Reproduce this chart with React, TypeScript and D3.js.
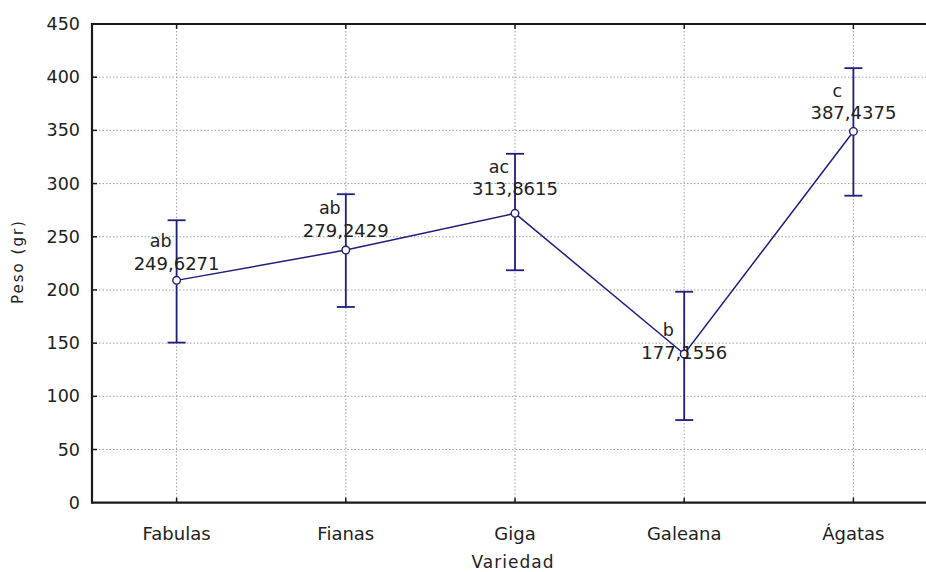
import React from "react";
import * as d3 from "d3";

const categories = ["Fabulas", "Fianas", "Giga", "Galeana", "Ágatas"];
const means = [209, 237.5, 272, 139.8, 349];
const upper = [265.5, 290, 328, 198.3, 408.5];
const lower = [150.5, 184, 218.5, 77.7, 288.6];
const groupLetters = ["ab", "ab", "ac", "b", "c"];
const valueLabels = ["249,6271", "279,2429", "313,8615", "177,1556", "387,4375"];
const labelAnchor = [225, 256, 295, 141.6, 366.6];
const yTicks = [0, 50, 100, 150, 200, 250, 300, 350, 400, 450];

const W = 926;
const H = 572;
const left = 92;
const top = 24;
const bottom = 502.7;
const right = 938;
const FONT = "'DejaVu Sans', Verdana, sans-serif";
const TEXT = "#222";
const NAVY = "#1e1e7c";

export default function App() {
  const x = d3.scalePoint<string>().domain(categories).range([left, right]).padding(0.5);
  const y = d3.scaleLinear().domain([0, 450]).range([bottom, top]);
  const line = d3
    .line<number>()
    .x((_, i) => x(categories[i]) as number)
    .y((d) => y(d));

  return (
    <svg
      width={W}
      height={H}
      style={{ position: "absolute", left: 0, top: 0, display: "block", background: "#fff" }}
    >
      <rect x={0} y={0} width={W} height={H} fill="#fff" />
      {yTicks
        .filter((t) => t !== 0 && t !== 450)
        .map((t) => (
          <line
            key={"hg" + t}
            x1={left}
            x2={W}
            y1={y(t)}
            y2={y(t)}
            stroke="#a0a0a0"
            strokeWidth={1}
            strokeDasharray="1.5,2"
          />
        ))}
      {categories.map((c) => (
        <line
          key={"vg" + c}
          x1={x(c)}
          x2={x(c)}
          y1={top}
          y2={bottom}
          stroke="#a0a0a0"
          strokeWidth={1}
          strokeDasharray="1.5,2"
        />
      ))}
      <line x1={left} x2={W} y1={top} y2={top} stroke="#1a1a1a" strokeWidth={2.2} />
      <line x1={left} x2={W} y1={bottom} y2={bottom} stroke="#1a1a1a" strokeWidth={2.2} />
      <line x1={left} x2={left} y1={top - 1} y2={bottom + 1} stroke="#1a1a1a" strokeWidth={2.2} />
      {yTicks.map((t) => (
        <g key={"yt" + t}>
          {t !== 0 && t !== 450 && (
            <line x1={left} x2={left + 5} y1={y(t)} y2={y(t)} stroke="#1a1a1a" strokeWidth={1.5} />
          )}
          <text
            x={80}
            y={y(t)}
            textAnchor="end"
            dominantBaseline="central"
            fontFamily={FONT}
            fontSize={17.5}
            fill={TEXT}
          >
            {t}
          </text>
        </g>
      ))}
      {categories.map((c) => (
        <g key={"xt" + c}>
          <line x1={x(c)} x2={x(c)} y1={bottom} y2={bottom - 5} stroke="#1a1a1a" strokeWidth={1.5} />
          <line x1={x(c)} x2={x(c)} y1={top} y2={top + 5} stroke="#1a1a1a" strokeWidth={1.5} />
          <text
            x={x(c)}
            y={533}
            textAnchor="middle"
            dominantBaseline="central"
            fontFamily={FONT}
            fontSize={18}
            fill={TEXT}
          >
            {c}
          </text>
        </g>
      ))}
      <text
        x={513}
        y={562}
        textAnchor="middle"
        dominantBaseline="central"
        fontFamily={FONT}
        fontSize={17}
        letterSpacing={1}
        fill={TEXT}
      >
        Variedad
      </text>
      <text
        transform={`translate(18,261.5) rotate(-90)`}
        textAnchor="middle"
        dominantBaseline="central"
        fontFamily={FONT}
        fontSize={15}
        letterSpacing={2}
        fill={TEXT}
      >
        Peso (gr)
      </text>
      {categories.map((c, i) => {
        const cx = x(c) as number;
        return (
          <g key={"eb" + c} stroke={NAVY} strokeWidth={1.8}>
            <line x1={cx} x2={cx} y1={y(upper[i])} y2={y(lower[i])} />
            <line x1={cx - 9} x2={cx + 9} y1={y(upper[i])} y2={y(upper[i])} />
            <line x1={cx - 9} x2={cx + 9} y1={y(lower[i])} y2={y(lower[i])} />
          </g>
        );
      })}
      <path d={line(means) || ""} fill="none" stroke={NAVY} strokeWidth={1.5} />
      {categories.map((c, i) => (
        <circle
          key={"m" + c}
          cx={x(c)}
          cy={y(means[i])}
          r={3.8}
          fill="#fff"
          stroke={NAVY}
          strokeWidth={1.4}
        />
      ))}
      {categories.map((c, i) => {
        const cx = x(c) as number;
        const ly = y(labelAnchor[i]);
        return (
          <g key={"lb" + c} fontFamily={FONT} fill={TEXT}>
            <text x={cx} y={ly} textAnchor="middle" dominantBaseline="central" fontSize={18}>
              {valueLabels[i]}
            </text>
            <text
              x={cx - 16}
              y={ly - 22}
              textAnchor="middle"
              dominantBaseline="central"
              fontSize={17.5}
            >
              {groupLetters[i]}
            </text>
          </g>
        );
      })}
    </svg>
  );
}
